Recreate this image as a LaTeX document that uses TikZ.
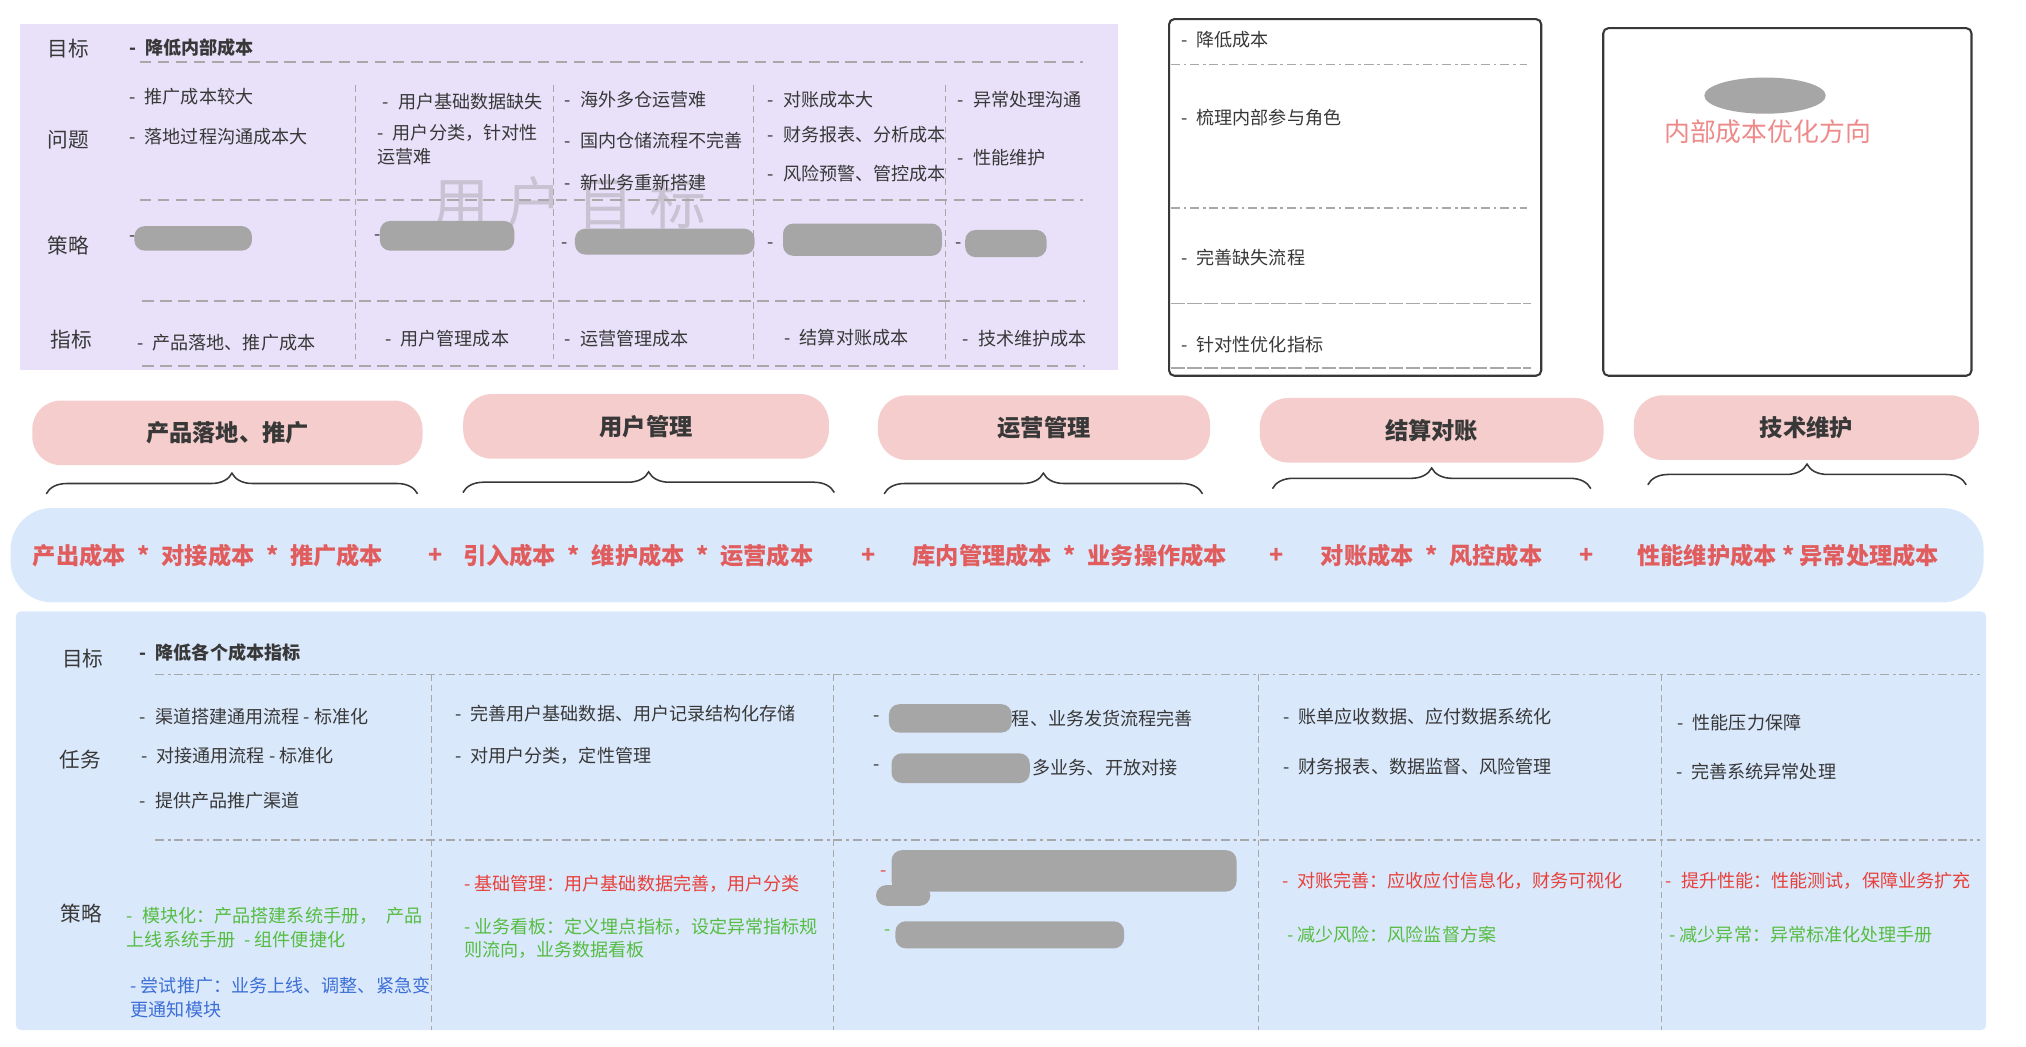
\documentclass[tikz,border=0pt]{standalone}
\usepackage{fontspec}
\setmainfont{Noto Sans CJK SC}
\usepackage{xcolor}
\usepackage{tikz}
\usetikzlibrary{positioning,calc,decorations.pathreplacing}
\definecolor{GoalPurple}{HTML}{E8E1F9}
\definecolor{CostBlue}{HTML}{DAE8FB}
\definecolor{HeadPink}{HTML}{F6CDCD}
\definecolor{FormulaRed}{HTML}{E15D5D}
\definecolor{SoftRed}{HTML}{EE8A8A}
\definecolor{TextDark}{HTML}{383838}
\definecolor{RuleGray}{HTML}{A8A8A8}
\definecolor{PlanRed}{HTML}{E8403A}
\definecolor{PlanGreen}{HTML}{55BD42}
\definecolor{PlanBlue}{HTML}{3C6FD6}
\definecolor{BlurGray}{HTML}{A6A6A6}
\definecolor{MarkGray}{HTML}{C8C2D3}
\newcommand{\tms}{\hspace{9pt}*\hspace{9pt}}

\begin{document}
\begin{tikzpicture}[
  x=1pt, y=-1pt,
  panel/.style={anchor=north west, inner sep=0pt},
  rowlabel/.style={font=\fontsize{16}{18}\selectfont, text=TextDark, inner sep=0pt},
  item/.style={anchor=west, align=left, inner sep=0pt, font=\fontsize{14}{18}\selectfont, text=TextDark},
  goal/.style={item, font=\fontsize{14}{18}\selectfont\bfseries},
  dashrule/.style={RuleGray, line width=1.3pt, dash pattern=on 9pt off 5pt},
  longrule/.style={RuleGray, line width=1.3pt, dash pattern=on 11pt off 2pt},
  colrule/.style={RuleGray, line width=0.6pt, dash pattern=on 5pt off 3pt},
  dotrule/.style={RuleGray, line width=1.3pt, dash pattern=on 7pt off 3pt on 2pt off 3pt},
  headpill/.style={fill=HeadPink, rounded corners=22pt, minimum height=50pt, font=\fontsize{18}{20}\selectfont\bfseries, text=TextDark},
  hbrace/.style={decorate, decoration={brace, amplitude=16pt}, line width=1.2pt, TextDark},
  sumtext/.style={font=\fontsize{18}{20}\selectfont\bfseries, text=FormulaRed, inner sep=0pt},
  redact/.style={fill=BlurGray, rounded corners=8pt},
  card/.style={draw=TextDark, line width=1.6pt, fill=white, rounded corners=4pt, anchor=north west, inner sep=0pt}
]
\useasboundingbox (0,0) rectangle (1568,810);

\node[panel, fill=GoalPurple, minimum width=850pt, minimum height=268pt] (goals) at (15,18) {};
\node[text=MarkGray, font=\fontsize{44}{44}\selectfont] (mark) at (441,157) {用\hspace{12pt}户\hspace{12pt}目\hspace{12pt}标};
\node[rowlabel] (g-goal) at (53,38) {目标};
\node[rowlabel] (g-issue) at (53,108) {问题};
\node[rowlabel] (g-plan) at (53,190) {策略};
\node[rowlabel] (g-metric) at (55,263) {指标};
\draw[dashrule] (108,48) -- (838,48);
\draw[dashrule] (108,155) -- (838,155);
\draw[dashrule] (110,233) -- (840,233);
\draw[dashrule] (110,283) -- (840,283);
\draw[colrule] (275,66) -- (275,278);
\draw[colrule] (428,66) -- (428,278);
\draw[colrule] (583,66) -- (583,278);
\draw[colrule] (732,66) -- (732,278);

\node[goal] (g-top) at (100,37) {-\enspace 降低内部成本};
\node[item] (g-i11) at (100,75) {-\enspace 推广成本较大};
\node[item] (g-i12) at (100,106) {-\enspace 落地过程沟通成本大};
\node[item] (g-i21) at (296,79) {-\enspace 用户基础数据缺失};
\node[item] (g-i22) at (292,112) {-\enspace 用户分类，针对性\\运营难};
\node[item] (g-i31) at (437,77) {-\enspace 海外多仓运营难};
\node[item] (g-i32) at (437,109) {-\enspace 国内仓储流程不完善};
\node[item] (g-i33) at (437,141) {-\enspace 新业务重新搭建};
\node[item] (g-i41) at (594,77) {-\enspace 对账成本大};
\node[item] (g-i42) at (594,104) {-\enspace 财务报表、分析成本};
\node[item] (g-i43) at (594,134) {-\enspace 风险预警、管控成本};
\node[item] (g-i51) at (741,77) {-\enspace 异常处理沟通};
\node[item] (g-i52) at (741,122) {-\enspace 性能维护};

\node[item] (g-s1) at (100,185) {-};
\node[item] (g-s2) at (290,184) {-};
\node[item] (g-s3) at (434,190) {-};
\node[item] (g-s4) at (594,190) {-};
\node[item] (g-s5) at (739,190) {-};
\fill[redact] (104,175) rectangle (195,194);
\fill[redact] (294,171) rectangle (398,194);
\fill[redact] (445,177) rectangle (584,197);
\fill[redact] (606,173) rectangle (729,198);
\fill[redact] (747,178) rectangle (810,199);

\node[item] (g-m1) at (106,265) {-\enspace 产品落地、推广成本};
\node[item] (g-m2) at (298,262) {-\enspace 用户管理成本};
\node[item] (g-m3) at (437,262) {-\enspace 运营管理成本};
\node[item] (g-m4) at (607,261) {-\enspace 结算对账成本};
\node[item] (g-m5) at (745,262) {-\enspace 技术维护成本};

\node[card, minimum width=288pt, minimum height=276pt] (steps) at (904,14) {};
\node[item] (st-1) at (914,31) {-\enspace 降低成本};
\node[item] (st-2) at (914,91) {-\enspace 梳理内部参与角色};
\node[item] (st-3) at (914,199) {-\enspace 完善缺失流程};
\node[item] (st-4) at (914,267) {-\enspace 针对性优化指标};
\draw[dotrule] (906,50) -- (1182,50);
\draw[dotrule] (906,161) -- (1182,161);
\draw[longrule] (906,235) -- (1185,235);
\draw[longrule] (906,285) -- (1185,285);

\node[card, minimum width=285pt, minimum height=269pt] (direction) at (1240,21) {};
\fill[BlurGray] (1366,74) ellipse (47pt and 14pt);
\node[text=SoftRed, font=\fontsize{20}{22}\selectfont] (direction-title) at (1368,102) {内部成本优化方向};

\node[headpill, minimum width=302pt] (h-launch) at (176,335) {产品落地、推广};
\node[headpill, minimum width=283pt] (h-user) at (500,330) {用户管理};
\node[headpill, minimum width=257pt] (h-ops) at (808,331) {运营管理};
\node[headpill, minimum width=266pt] (h-settle) at (1108,333) {结算对账};
\node[headpill, minimum width=267pt] (h-tech) at (1398,331) {技术维护};

\draw[hbrace] ($(h-launch.south west)+(11,22)$) -- ($(h-launch.south east)+(-4,22)$);
\draw[hbrace] ($(h-user.south west)+(0,26)$) -- ($(h-user.south east)+(4,26)$);
\draw[hbrace] ($(h-ops.south west)+(5,26)$) -- ($(h-ops.south east)+(-6,26)$);
\draw[hbrace] ($(h-settle.south west)+(10,20)$) -- ($(h-settle.south east)+(-10,20)$);
\draw[hbrace] ($(h-tech.south west)+(11,19)$) -- ($(h-tech.south east)+(-10,19)$);

\node[panel, fill=CostBlue, rounded corners=32pt, minimum width=1527pt, minimum height=73pt] (costs) at (8,393) {};
\node[sumtext] (c-launch) at (161,430) {产出成本\tms 对接成本\tms 推广成本};
\node[sumtext] (c-plus1) at (337,430) {+};
\node[sumtext] (c-user) at (494,430) {引入成本\tms 维护成本\tms 运营成本};
\node[sumtext] (c-plus2) at (672,430) {+};
\node[sumtext] (c-ops) at (828,430) {库内管理成本\tms 业务操作成本};
\node[sumtext] (c-plus3) at (988,430) {+};
\node[sumtext] (c-settle) at (1108,430) {对账成本\tms 风控成本};
\node[sumtext] (c-plus4) at (1228,430) {+};
\node[sumtext] (c-tech) at (1384,430) {性能维护成本\hspace{4pt}*\hspace{4pt}异常处理成本};

\node[panel, fill=CostBlue, rounded corners=4pt, minimum width=1525pt, minimum height=324pt] (tasks) at (12,473) {};
\node[rowlabel] (t-goal) at (64,510) {目标};
\node[rowlabel] (t-task) at (62,588) {任务};
\node[rowlabel] (t-plan) at (63,707) {策略};
\node[goal] (t-top) at (108,505) {-\enspace 降低各个成本指标};
\draw[dotrule] (120,522) -- (1532,522);
\draw[dotrule] (120,650) -- (1532,650);
\draw[colrule] (334,522) -- (334,797);
\draw[colrule] (645,522) -- (645,797);
\draw[colrule] (974,522) -- (974,797);
\draw[colrule] (1286,522) -- (1286,797);

\node[item] (t-i11) at (108,555) {-\enspace 渠道搭建通用流程 - 标准化};
\node[item] (t-i12) at (109,585) {-\enspace 对接通用流程 - 标准化};
\node[item] (t-i13) at (108,620) {-\enspace 提供产品推广渠道};
\node[item] (t-i21) at (352,552) {-\enspace 完善用户基础数据、用户记录结构化存储};
\node[item] (t-i22) at (352,585) {-\enspace 对用户分类，定性管理};
\node[item] (t-i31) at (676,556) {-};
\node[item] (t-i31b) at (769,556) {流程、业务发货流程完善};
\fill[redact] (688,545) rectangle (783,567);
\node[item] (t-i32) at (676,594) {-};
\node[item] (t-i32b) at (799,594) {多业务、开放对接};
\fill[redact] (690,583) rectangle (797,606);
\node[item] (t-i41) at (993,555) {-\enspace 账单应收数据、应付数据系统化};
\node[item] (t-i42) at (993,593) {-\enspace 财务报表、数据监督、风险管理};
\node[item] (t-i51) at (1298,559) {-\enspace 性能压力保障};
\node[item] (t-i52) at (1297,597) {-\enspace 完善系统异常处理};

\node[item, text=PlanGreen] (p-11) at (98,718) {-\enspace 模块化：产品搭建系统手册，\enspace 产品\\上线系统手册\enspace - 组件便捷化};
\node[item, text=PlanBlue] (p-12) at (101,772) {-\hspace{3pt}尝试推广：业务上线、调整、紧急变\\更通知模块};
\node[item, text=PlanRed] (p-21) at (359,684) {-\hspace{3pt}基础管理：用户基础数据完善，用户分类};
\node[item, text=PlanGreen] (p-22) at (359,726) {-\hspace{3pt}业务看板：定义埋点指标，设定异常指标规\\则流向，业务数据看板};
\node[item, text=PlanRed] (p-31) at (681,676) {-};
\fill[redact] (690,658) rectangle (957,690);
\fill[redact] (678,685) rectangle (720,701);
\node[item, text=PlanGreen] (p-32) at (684,722) {-};
\fill[redact] (693,713) rectangle (870,734);
\node[item, text=PlanRed] (p-41) at (992,682) {-\enspace 对账完善：应收应付信息化，财务可视化};
\node[item, text=PlanGreen] (p-42) at (996,723) {-\hspace{3pt}减少风险：风险监督方案};
\node[item, text=PlanRed] (p-51) at (1289,682) {-\enspace 提升性能：性能测试，保障业务扩充};
\node[item, text=PlanGreen] (p-52) at (1292,723) {-\hspace{3pt}减少异常：异常标准化处理手册};
\end{tikzpicture}
\end{document}
